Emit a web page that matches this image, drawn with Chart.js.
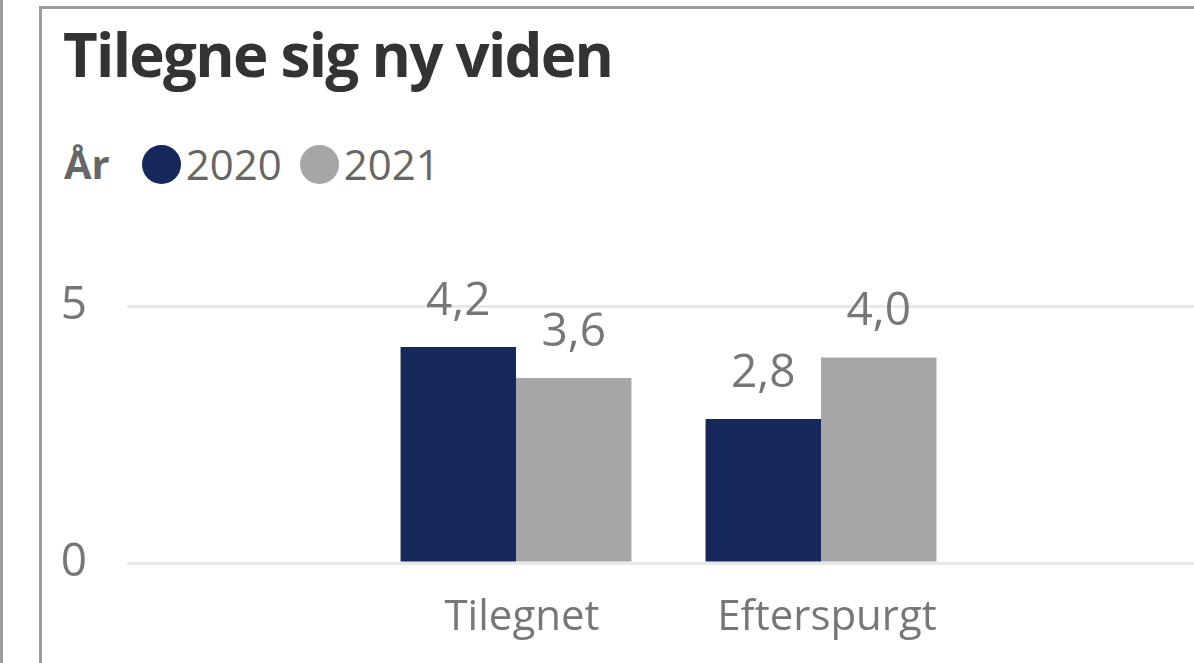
<!DOCTYPE html>
<html>
<head>
<meta charset="utf-8">
<script src="https://cdn.jsdelivr.net/npm/chart.js@4"></script>
<style>
  html, body { margin:0; padding:0; background:#fff; width:1194px; height:663px; overflow:hidden; }
  #outerLine { position:absolute; left:0; top:0; width:3px; height:663px; background:#9c9c9c; }
  #frame { position:absolute; left:39px; top:6px; width:1200px; height:700px; border-left:3px solid #9c9c9c; border-top:3px solid #9c9c9c; box-sizing:border-box; }
  #title { position:absolute; left:63px; top:24px; font-family:"Open Sans", sans-serif; font-weight:700; font-size:60px; letter-spacing:-1.7px; line-height:1; color:#333; white-space:nowrap; }
  #legend { position:absolute; left:64px; top:143px; font-family:"Open Sans", sans-serif; font-size:42px; line-height:1; color:#666; display:flex; align-items:center; white-space:nowrap; }
  #legend .ttl { font-weight:700; font-size:40px; margin-right:32px; }
  #legend .dot { width:39px; height:39px; border-radius:50%; display:inline-block; margin-right:5px; }
  #legend .item { display:flex; align-items:center; margin-right:18px; }
  #chartWrap { position:absolute; left:42px; top:9px; width:1152px; height:654px; }
</style>
</head>
<body>
<div id="outerLine"></div>
<div id="frame"></div>
<div id="title"></div>
<div id="legend"></div>
<div id="chartWrap"><canvas id="c" width="1152" height="654"></canvas></div>
<script>
// ---- data ----
const chartTitle = "Tilegne sig ny viden";
const legendTitle = "År";
const categories = ["Tilegnet", "Efterspurgt"];
const seriesNames = ["2020", "2021"];
const values2020 = [4.2, 2.8];
const values2021 = [3.6, 4.0];
const yTicks = [0, 5];
const seriesColors = ["#162759", "#a6a6a6"];

document.getElementById('title').textContent = chartTitle;
const legend = document.getElementById('legend');
const lt = document.createElement('span'); lt.className = 'ttl'; lt.textContent = legendTitle; legend.appendChild(lt);
seriesNames.forEach((n, i) => {
  const it = document.createElement('span'); it.className = 'item';
  const d = document.createElement('span'); d.className = 'dot'; d.style.background = seriesColors[i];
  const t = document.createElement('span'); t.textContent = n;
  it.appendChild(d); it.appendChild(t); legend.appendChild(it);
});

const fmt = v => v.toFixed(1).replace('.', ',');

const valueLabels = {
  id: 'valueLabels',
  afterDatasetsDraw(chart) {
    const ctx = chart.ctx;
    ctx.save();
    ctx.font = '46px "Open Sans"';
    ctx.fillStyle = '#777';
    ctx.textAlign = 'center';
    ctx.textBaseline = 'alphabetic';
    chart.data.datasets.forEach((ds, di) => {
      const meta = chart.getDatasetMeta(di);
      meta.data.forEach((bar, i) => {
        ctx.fillText(fmt(ds.data[i].y), bar.x, bar.y - 32);
      });
    });
    ctx.restore();
  }
};

const toPoints = arr => arr.map((v, i) => ({ x: i, y: v }));

new Chart(document.getElementById('c'), {
  type: 'bar',
  data: {
    datasets: [
      { label: seriesNames[0], data: toPoints(values2020), backgroundColor: seriesColors[0] },
      { label: seriesNames[1], data: toPoints(values2021), backgroundColor: seriesColors[1] }
    ]
  },
  options: {
    responsive: false,
    animation: false,
    devicePixelRatio: 1,
    categoryPercentage: 0.757,
    barPercentage: 1,
    layout: { padding: { left: 0, right: 0, top: 245.6, bottom: 0 } },
    plugins: { legend: { display: false }, tooltip: { enabled: false } },
    scales: {
      x: {
        type: 'linear',
        bounds: 'data',
        offset: false,
        min: -1.2754,
        max: 2.223,
        grid: { display: false },
        border: { display: false },
        afterBuildTicks: s => { s.ticks = categories.map((c, i) => ({ value: i })); },
        ticks: {
          autoSkip: false,
          maxRotation: 0,
          padding: 22,
          labelOffset: 6,
          color: '#777',
          font: { family: 'Open Sans', size: 42 },
          callback: v => (categories[v] !== undefined) ? categories[v] : ''
        },
        afterFit: s => { s.height = 100; }
      },
      y: {
        min: 0,
        max: 6,
        grid: { color: '#e8e8e8', lineWidth: 3, drawTicks: false },
        border: { display: false },
        afterBuildTicks: s => { s.ticks = yTicks.map(v => ({ value: v })); },
        ticks: {
          padding: 40,
          color: '#777',
          font: { family: 'Open Sans', size: 46 }
        },
        afterFit: s => { s.width = 85; }
      }
    }
  },
  plugins: [valueLabels]
});
</script>
</body>
</html>
